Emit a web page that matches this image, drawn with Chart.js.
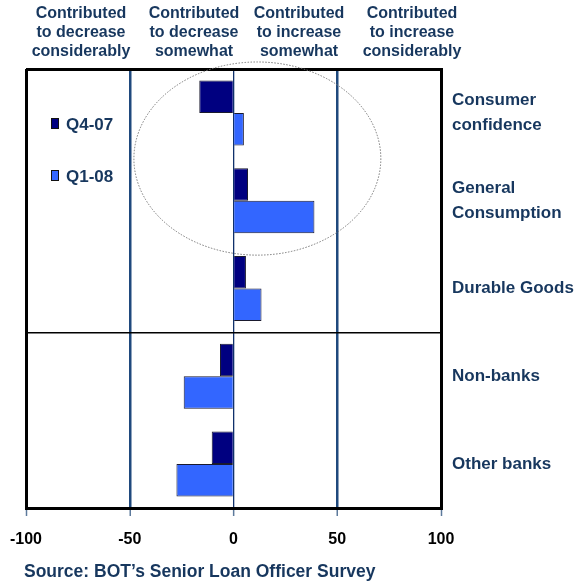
<!DOCTYPE html>
<html>
<head>
<meta charset="utf-8">
<script src="https://cdn.jsdelivr.net/npm/chart.js@4/dist/chart.umd.min.js"></script>
<style>
html,body{margin:0;padding:0;background:#fff;}
#wrap{width:579px;height:586px;}
</style>
</head>
<body>
<div id="wrap"><canvas id="grafico"></canvas></div>
<script>
const categorias=[["Consumer","confidence"],["General","Consumption"],"Durable Goods","Non-banks","Other banks"];
const q407=[-16.5,7,6,-6.5,-10.5];
const q108=[5,39,13.5,-24,-27.5];
const ticksX=[-100,-50,0,50,100];
const encabezados=[
["Contributed","to decrease","considerably"],
["Contributed","to decrease","somewhat"],
["Contributed","to increase","somewhat"],
["Contributed","to increase","considerably"]
];
const fuente="Source: BOT\u2019s Senior Loan Officer Survey";

const azulTexto="#17375e";
const fuenteBold="'Liberation Sans', Arial, sans-serif";

const extras={
id:"extras",
afterDatasetsDraw(chart){
let ctx=chart.ctx;
let x=chart.scales.x;
let y=chart.scales.y;
// elipse punteada alrededor de las dos primeras categorias
let cx=x.getPixelForValue(11.5);
let cy=y.getPixelForValue(0.52);
let rx=x.getPixelForValue(11.5+59.5)-cx;
let ry=(y.getPixelForValue(1)-y.getPixelForValue(0))*1.1;
ctx.save();
ctx.beginPath();
ctx.setLineDash([1.5,1.5]);
ctx.strokeStyle="#777";
ctx.lineWidth=1;
ctx.ellipse(cx,cy,rx,ry,0,0,Math.PI*2);
ctx.stroke();
ctx.restore();
},
afterDraw(chart){
let ctx=chart.ctx;
ctx.save();
ctx.fillStyle=azulTexto;
ctx.font="bold 16px "+fuenteBold;
ctx.textAlign="center";
ctx.textBaseline="middle";
let centros=[81,194,299,412];
encabezados.forEach((lineas,i)=>{
lineas.forEach((t,j)=>{
ctx.fillText(t,centros[i],14+j*18.8);
});
});
// leyenda
ctx.font="bold 17px "+fuenteBold;
ctx.textAlign="left";
chart.data.datasets.forEach((ds,i)=>{
let yy=124+i*52;
ctx.fillStyle=ds.backgroundColor;
ctx.fillRect(51,yy-6,8,11);
ctx.strokeStyle="#111";
ctx.lineWidth=1;
ctx.strokeRect(51.5,yy-5.5,7,10);
ctx.fillStyle=azulTexto;
ctx.fillText(ds.label,66,yy+1);
});
ctx.font="bold 17.5px "+fuenteBold;
ctx.fillText(fuente,24,572);
ctx.restore();
}
};

new Chart(document.getElementById("grafico"),{
type:"bar",
data:{
labels:categorias,
datasets:[
{label:"Q4-07",data:q407,backgroundColor:"#000080",borderColor:"#1a1a2e",borderWidth:1},
{label:"Q1-08",data:q108,backgroundColor:"#3366ff",borderColor:"#1a1a2e",borderWidth:1}
]
},
options:{
indexAxis:"y",
responsive:true,
maintainAspectRatio:false,
animation:false,
categoryPercentage:0.74,
barPercentage:1,
layout:{padding:{top:69,left:26,right:0,bottom:0}},
plugins:{legend:{display:false},tooltip:{enabled:false}},
scales:{
x:{
min:-100,max:100,
afterBuildTicks(scale){scale.ticks=ticksX.map(v=>({value:v}));},
afterFit(scale){scale.height=78;scale.paddingLeft=0;scale.paddingRight=0;},
grid:{
color:c=>{let v=c.tick?c.tick.value:null;if(v===-100||v===100)return "#000";if(v===0)return "#10316b";return "#1f497d";},
lineWidth:c=>{let v=c.tick?c.tick.value:null;if(v===-100||v===100)return 3;if(v===0)return 1.3;return 2.5;},
tickColor:"#5d7a9c",
tickWidth:1.5,
tickLength:8
},
border:{color:"#000",width:3},
ticks:{color:"#000",padding:14,font:{family:fuenteBold,size:16,weight:"bold"}}
},
y:{
position:"right",
afterFit(scale){scale.width=138;},
grid:{
offset:true,
drawTicks:false,
color:c=>(c.index===0||c.index===3)?"#000":"rgba(0,0,0,0)",
lineWidth:c=>c.index===0?3:(c.index===3?1.5:0)
},
border:{color:"#000",width:3},
ticks:{color:azulTexto,padding:11,crossAlign:"near",font:{family:fuenteBold,size:17,weight:"bold",lineHeight:1.45}}
}
}
},
plugins:[extras]
});
</script>
</body>
</html>
